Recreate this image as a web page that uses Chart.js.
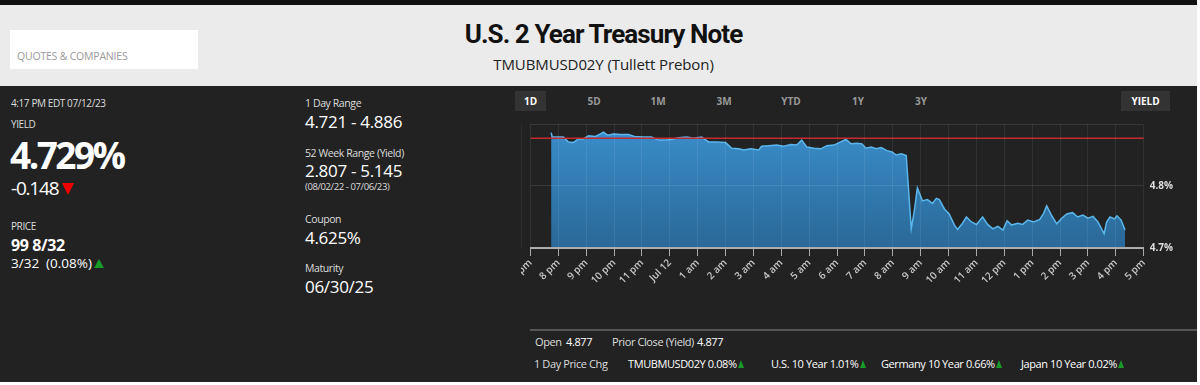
<!DOCTYPE html>
<html>
  <head>
    <script src="https://cdn.jsdelivr.net/npm/chart.js@4.4.0/dist/chart.umd.min.js"></script>
    <style>
      body { margin: 0; background: #fff; font-family: "Open Sans", sans-serif; }
      #wrap { position: relative; width: 1197px; height: 382px; background: #222; overflow: hidden; }
      #head { position: absolute; left: 0; top: 0; width: 1197px; height: 86px; background: #ebebeb; border-top: 5px solid #111; box-sizing: border-box; }
      #search { position: absolute; left: 10px; top: 25px; width: 188px; height: 39px; background: #fff; }
      #search span { position: absolute; left: 7px; top: 21px; font-size: 10.5px; color: #9a9a9a; line-height: 1; letter-spacing: -0.2px; }
      #title { position: absolute; left: 0; width: 1207px; top: 21px; text-align: center; font-family: Roboto, sans-serif; font-weight: 700; font-size: 26px; letter-spacing: -0.9px; color: #111; line-height: 1; }
      #sub { position: absolute; left: 0; width: 1207px; top: 57px; text-align: center; font-size: 15px; color: #222; line-height: 1; letter-spacing: -0.1px; }
      .t { position: absolute; line-height: 1; white-space: nowrap; color: #ddd; letter-spacing: -0.4px; }
      .lab { font-size: 10.5px; }
      .val { font-size: 17px; color: #fff; letter-spacing: -0.3px; }
      .tab { position: absolute; top: 91px; height: 20px; line-height: 20px; font-size: 10px; font-weight: 700; color: #999; text-align: center; }
      .tab.on { background: #333; color: #fff; }
      .dn { display: inline-block; width: 0; height: 0; border-left: 6px solid transparent; border-right: 6px solid transparent; border-top: 12px solid #e00; margin-left: 4px; }
      .up { display: inline-block; width: 0; height: 0; border-left: 5px solid transparent; border-right: 5px solid transparent; border-bottom: 9px solid #1a9a2a; margin-left: 2px; }
      .ups { display: inline-block; width: 0; height: 0; border-left: 3px solid transparent; border-right: 3px solid transparent; border-bottom: 8px solid #1a9a2a; margin-left: 1px; }
      #rule { position: absolute; left: 530px; top: 329px; width: 667px; height: 2px; background: #555; }
      .b { font-size: 11px; }
      .w { color: #fff; }
      canvas { position: absolute; left: 521px; top: 112px; }
    </style>
  </head>
  <body>
    <div id="wrap">
      <div id="head">
        <div id="search"><span>QUOTES &amp; COMPANIES</span></div>
      </div>
      <div id="title">U.S. 2 Year Treasury Note</div>
      <div id="sub">TMUBMUSD02Y (Tullett Prebon)</div>

      <div class="t lab" style="left:11px;top:98px;font-size:10px;">4:17 PM EDT 07/12/23</div>
      <div class="t lab" style="left:11px;top:119px;font-size:10px;">YIELD</div>
      <div class="t" style="left:10px;top:136px;font-size:37px;font-weight:700;color:#fff;letter-spacing:-2.5px;">4.729%</div>
      <div class="t" style="left:11px;top:179px;font-size:19px;color:#fff;letter-spacing:-1.2px;">-0.148<span class="dn"></span></div>
      <div class="t lab" style="left:11px;top:221px;font-size:10px;">PRICE</div>
      <div class="t" style="left:11px;top:237px;font-size:16px;font-weight:700;color:#fff;letter-spacing:-0.4px;">99 8/32</div>
      <div class="t" style="left:11px;top:257px;font-size:13.5px;color:#fff;letter-spacing:0px;">3/32&nbsp; (0.08%)<span class="up"></span></div>

      <div class="t lab" style="left:305px;top:98px;">1 Day Range</div>
      <div class="t val" style="left:305px;top:113px;">4.721 - 4.886</div>
      <div class="t lab" style="left:305px;top:148px;">52 Week Range (Yield)</div>
      <div class="t val" style="left:305px;top:162px;">2.807 - 5.145</div>
      <div class="t lab" style="left:305px;top:182px;font-size:9.5px;">(08/02/22 - 07/06/23)</div>
      <div class="t lab" style="left:305px;top:214px;">Coupon</div>
      <div class="t val" style="left:305px;top:229px;">4.625%</div>
      <div class="t lab" style="left:305px;top:263px;">Maturity</div>
      <div class="t val" style="left:305px;top:278px;">06/30/25</div>

      <div class="tab on" style="left:515px;width:31px;">1D</div>
      <div class="tab" style="left:579px;width:30px;">5D</div>
      <div class="tab" style="left:643px;width:30px;">1M</div>
      <div class="tab" style="left:709px;width:30px;">3M</div>
      <div class="tab" style="left:776px;width:30px;">YTD</div>
      <div class="tab" style="left:843px;width:30px;">1Y</div>
      <div class="tab" style="left:906px;width:30px;">3Y</div>
      <div class="tab on" style="left:1121px;width:49px;">YIELD</div>

      <canvas id="yieldChart" width="676" height="210"></canvas>

      <div id="rule"></div>
      <div class="t b" style="left:535px;top:336px;">Open</div>
      <div class="t b w" style="left:566px;top:336px;">4.877</div>
      <div class="t b" style="left:612px;top:336px;">Prior Close (Yield)</div>
      <div class="t b w" style="left:697px;top:336px;">4.877</div>
      <div class="t b" style="left:534px;top:358px;">1 Day Price Chg</div>
      <div class="t b w" style="left:628px;top:358px;">TMUBMUSD02Y 0.08%<span class="ups"></span></div>
      <div class="t b w" style="left:771px;top:358px;">U.S. 10 Year 1.01%<span class="ups"></span></div>
      <div class="t b w" style="left:881px;top:358px;">Germany 10 Year 0.66%<span class="ups"></span></div>
      <div class="t b w" style="left:1021px;top:358px;">Japan 10 Year 0.02%<span class="ups"></span></div>
    </div>

    <script>
      // hours after 7 pm on Jul 11 (0 = 7 pm, 22 = 5 pm Jul 12)
      var hours = [
        0.74, 0.78, 1.18, 1.36, 1.53, 1.72, 1.90, 2.08, 2.33, 2.51,
        2.62, 2.76, 2.98, 3.23, 3.52, 3.73, 4.06, 4.34, 4.60, 4.85,
        5.06, 5.31, 5.60, 5.85, 6.14, 6.39, 6.67, 7.00, 7.22, 7.47,
        7.65, 7.90, 8.19, 8.29, 8.55, 8.83, 9.09, 9.34, 9.55, 9.73,
        9.91, 10.17, 10.42, 10.63, 10.89, 11.07, 11.32, 11.50, 11.71, 11.89,
        12.04, 12.22, 12.40, 12.58, 12.79, 12.97, 13.12, 13.30, 13.48,
        13.66, 13.77, 13.88, 13.95, 14.06, 14.24, 14.42, 14.56, 14.67, 14.85,
        15.02, 15.21, 15.32, 15.50, 15.64, 15.82, 16.00, 16.22, 16.40, 16.59,
        16.77, 16.95, 17.10, 17.26, 17.48, 17.66, 17.84, 18.05, 18.27, 18.41,
        18.52, 18.70, 18.88, 19.06, 19.24, 19.45, 19.63, 19.82, 20.00, 20.18,
        20.36, 20.58, 20.67, 20.79, 20.95, 21.04, 21.19, 21.33
      ];
      var yields = [
        4.886, 4.879, 4.879, 4.871, 4.870, 4.876, 4.876, 4.881, 4.880, 4.884,
        4.887, 4.882, 4.884, 4.883, 4.883, 4.880, 4.879, 4.879, 4.874, 4.874,
        4.875, 4.878, 4.879, 4.877, 4.879, 4.871, 4.871, 4.870, 4.861, 4.860,
        4.858, 4.860, 4.858, 4.864, 4.865, 4.866, 4.864, 4.867, 4.866, 4.874,
        4.863, 4.861, 4.860, 4.865, 4.866, 4.870, 4.875, 4.868, 4.869, 4.868,
        4.861, 4.863, 4.860, 4.862, 4.857, 4.855, 4.850, 4.852, 4.849,
        4.731, 4.760, 4.797, 4.789, 4.776, 4.778, 4.772, 4.780, 4.778, 4.763,
        4.755, 4.737, 4.730, 4.740, 4.750, 4.742, 4.738, 4.750, 4.738, 4.731,
        4.735, 4.729, 4.744, 4.737, 4.740, 4.738, 4.745, 4.742, 4.746, 4.756,
        4.768, 4.752, 4.739, 4.748, 4.755, 4.757, 4.750, 4.753, 4.748, 4.751,
        4.742, 4.723, 4.742, 4.750, 4.747, 4.752, 4.745, 4.729
      ];
      var priorClose = 4.877;
      var hourLabels = ['7 pm', '8 pm', '9 pm', '10 pm', '11 pm', 'Jul 12', '1 am', '2 am', '3 am', '4 am', '5 am',
        '6 am', '7 am', '8 am', '9 am', '10 am', '11 am', '12 pm', '1 pm', '2 pm', '3 pm', '4 pm', '5 pm'];
      var yTicks = { min: 4.7, max: 4.9, step: 0.1 };

      var points = hours.map(function (h, i) { return { x: h, y: yields[i] }; });
      var closeLine = [{ x: 0, y: priorClose }, { x: hourLabels.length - 1, y: priorClose }];

      var ctx = document.getElementById('yieldChart').getContext('2d');
      var chart = new Chart(ctx, {
        type: 'line',
        data: {
          datasets: [{
            data: closeLine,
            borderColor: '#c42a30',
            borderWidth: 1.5,
            pointRadius: 0,
            fill: false,
            order: 0
          }, {
            data: points,
            borderColor: '#5ab6ec',
            borderWidth: 1.5,
            pointRadius: 0,
            tension: 0,
            fill: 'start',
            order: 1,
            backgroundColor: function (context) {
              var area = context.chart.chartArea;
              if (!area) return 'rgba(55,135,195,1)';
              var g = context.chart.ctx.createLinearGradient(0, area.top, 0, area.bottom);
              g.addColorStop(0, '#3a8ecb');
              g.addColorStop(1, '#2a6897');
              return g;
            }
          }]
        },
        options: {
          responsive: false,
          animation: false,
          layout: { padding: { left: 9.5, right: 5.3, top: 10, bottom: 10 } },
          plugins: { legend: { display: false }, tooltip: { enabled: false } },
          scales: {
            x: {
              type: 'linear',
              min: 0,
              max: hourLabels.length - 1,
              afterFit: function (scale) {
                scale.height = 64;
                scale.paddingLeft = 0;
                scale.paddingRight = 0;
              },
              grid: { color: 'rgba(255,255,255,0.07)', tickColor: '#aaa', tickLength: 8, z: 1 },
              border: { color: '#aaa', width: 2, z: 1 },
              ticks: {
                stepSize: 1,
                autoSkip: false,
                minRotation: 45,
                maxRotation: 45,
                padding: 1,
                color: '#c8c8c8',
                font: { family: 'Open Sans', size: 10, weight: '600' },
                callback: function (v) { return hourLabels[v]; }
              }
            },
            y: {
              position: 'right',
              min: yTicks.min,
              max: yTicks.max,
              afterFit: function (scale) { scale.width = 48; },
              grid: { color: 'rgba(255,255,255,0.1)', drawTicks: false, z: 1 },
              border: { color: 'rgba(255,255,255,0.1)' },
              ticks: {
                stepSize: yTicks.step,
                padding: 6,
                color: '#ddd',
                font: { family: 'Open Sans', size: 10, weight: '700' },
                callback: function (v) {
                  var s = v.toFixed(1);
                  return s === '4.9' ? '' : s + '%';
                }
              }
            }
          }
        }
      });
    </script>
  </body>
</html>
